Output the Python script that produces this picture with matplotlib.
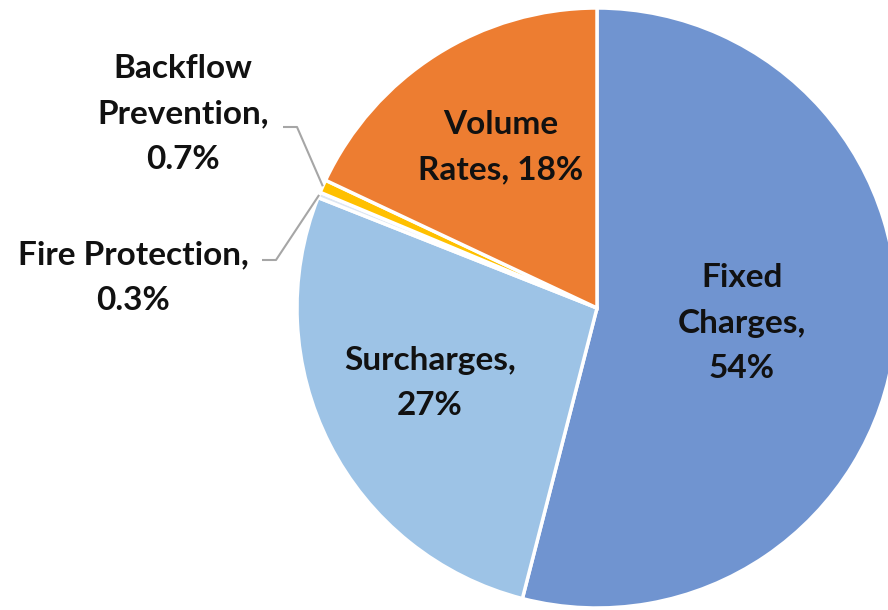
import numpy as np
import matplotlib.pyplot as plt

plt.rcParams['font.family'] = ['Lato', 'DejaVu Sans']

categories = ['Fixed Charges', 'Surcharges', 'Fire Protection', 'Backflow Prevention', 'Volume Rates']
shares = [54, 27, 0.3, 0.7, 18]
colors = ['#7094d0', '#9dc3e6', '#dde6f2', '#ffc000', '#ed7d31']
label_text = ['Fixed\nCharges,\n54%', 'Surcharges,\n27%', 'Fire Protection,\n0.3%',
              'Backflow\nPrevention,\n0.7%', 'Volume\nRates, 18%']

W, H = 888, 610
cx, cy, r = 597, 302, 300

fig = plt.figure(figsize=(W / 100, H / 100), dpi=100)
ax = fig.add_axes([0, 0, 1, 1])

wedges, _ = ax.pie(shares, colors=colors, startangle=90, counterclock=False,
                   center=(cx, cy), radius=r, frame=True,
                   wedgeprops=dict(edgecolor='white', linewidth=2.5))
ax.set_xlim(0, W)
ax.set_ylim(0, H)
ax.set_aspect('equal')
ax.axis('off')

fs = 24
# labels inside the big slices
inside = {0: (742, 287), 1: (430, 227), 4: (501, 463)}
for i, (x, y) in inside.items():
    ax.text(x, y, label_text[i], ha='center', va='center', fontsize=fs,
            fontweight='bold', color='#111111', linespacing=1.7)

# outside labels with leader lines
outside = {3: ((183, 496), (283, 483), (297, 483)),
           2: ((133, 332), (262, 350), (276, 350))}
for i, (txt_xy, p0, p1) in outside.items():
    ax.text(txt_xy[0], txt_xy[1], label_text[i], ha='center', va='center', fontsize=fs,
            fontweight='bold', color='#111111', linespacing=1.7,
            multialignment='center')
    w = wedges[i]
    mid = np.deg2rad((w.theta1 + w.theta2) / 2)
    ex, ey = cx + r * np.cos(mid), cy + r * np.sin(mid)
    ax.plot([p0[0], p1[0], ex], [p0[1], p1[1], ey], color='#a6a6a6', lw=1.5,
            solid_capstyle='butt')

fig.savefig('out.png', dpi=100, facecolor='white')
